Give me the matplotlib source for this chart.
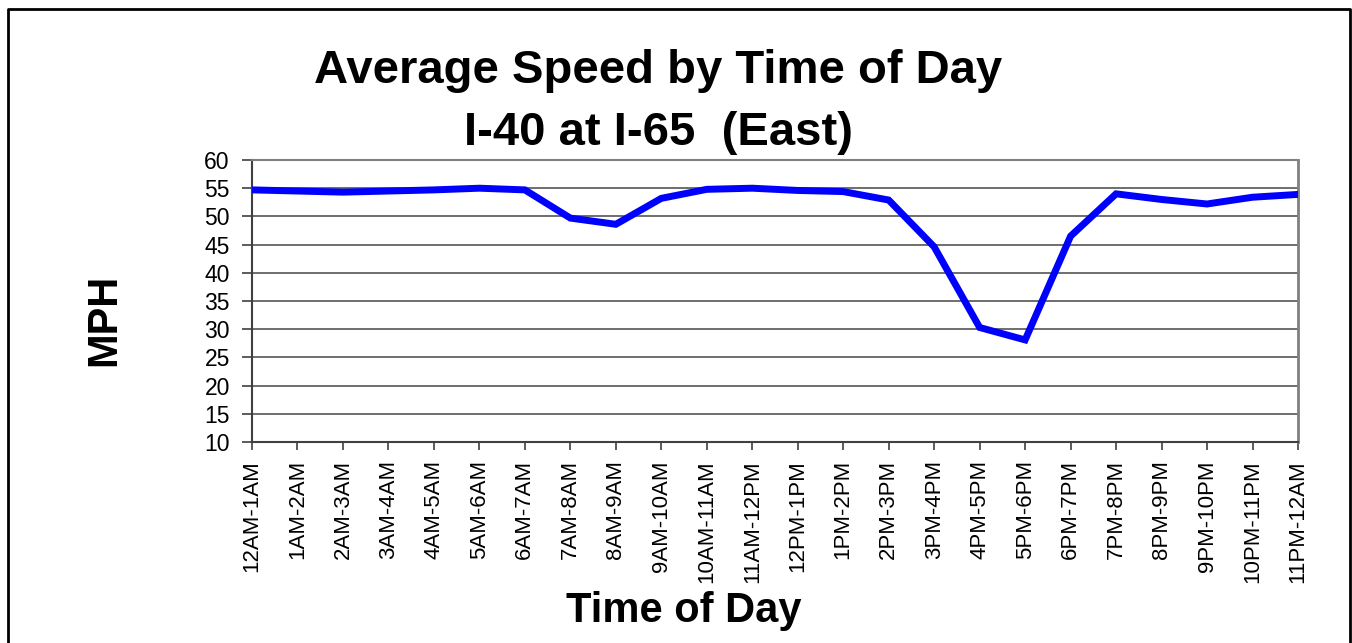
import numpy as np
import matplotlib
matplotlib.use("Agg")
import matplotlib.pyplot as plt
from matplotlib.lines import Line2D

plt.rcParams['font.family'] = ['Liberation Sans', 'DejaVu Sans']

# data
hours = ['12AM-1AM', '1AM-2AM', '2AM-3AM', '3AM-4AM', '4AM-5AM', '5AM-6AM',
         '6AM-7AM', '7AM-8AM', '8AM-9AM', '9AM-10AM', '10AM-11AM', '11AM-12PM',
         '12PM-1PM', '1PM-2PM', '2PM-3PM', '3PM-4PM', '4PM-5PM', '5PM-6PM',
         '6PM-7PM', '7PM-8PM', '8PM-9PM', '9PM-10PM', '10PM-11PM', '11PM-12AM']
speed = [54.7, 54.5, 54.3, 54.5, 54.7, 55.0, 54.7, 49.7, 48.6, 53.2, 54.8, 55.0,
         54.6, 54.4, 52.9, 44.6, 30.3, 28.1, 46.5, 54.0, 53.0, 52.2, 53.4, 53.9]
y_ticks = list(range(10, 61, 5))

W, H = 1352, 643
fig = plt.figure(figsize=(W/100, H/100), dpi=100)
ax = fig.add_axes([252/W, 1-442/H, (1298-252)/W, (442-160)/H])

x = np.arange(len(hours))
ax.plot(x, speed, color='#0000FF', lw=5, solid_joinstyle='miter', zorder=3)

ax.set_xlim(0, len(hours)-1)
ax.set_ylim(10, 60)
ax.set_yticks(y_ticks)
ax.set_xticks(x)
ax.set_xticklabels(hours, rotation=90, fontsize=16)
ax.tick_params(axis='y', labelsize=16.5, length=7, width=1.2, color='#404040', pad=9)
ax.tick_params(axis='x', length=6, width=1.2, color='#404040', pad=7)

ax.grid(axis='y', color='#555555', lw=1.2)
ax.set_axisbelow(True)
for side in ['left', 'bottom']:
    ax.spines[side].set_color('#404040')
    ax.spines[side].set_linewidth(1.5)
ax.spines['right'].set_color('#808080')
ax.spines['right'].set_linewidth(2)
ax.spines['top'].set_color('#808080')
ax.spines['top'].set_linewidth(1.5)

# title lines placed on their baselines
fig.text(658/W, 1-83/H, 'Average Speed by Time of Day', ha='center', va='baseline',
         fontsize=34, fontweight='bold')
fig.text(658/W, 1-145/H, 'I-40 at I-65  (East)', ha='center', va='baseline',
         fontsize=34, fontweight='bold')
fig.text(104/W, 1-320/H, 'MPH', rotation=90, ha='center', va='center',
         fontsize=30, fontweight='bold')
fig.text(684/W, 1-611/H, 'Time of Day', ha='center', va='center',
         fontsize=30, fontweight='bold')

# outer frame (bottom edge falls outside the image)
fx = [8/W, 8/W, 1349.5/W, 1349.5/W]
fy = [-0.05, 1-9/H, 1-9/H, -0.05]
fig.add_artist(Line2D(fx, fy, color='black', lw=2, transform=fig.transFigure))

fig.savefig('out.png', dpi=100)
